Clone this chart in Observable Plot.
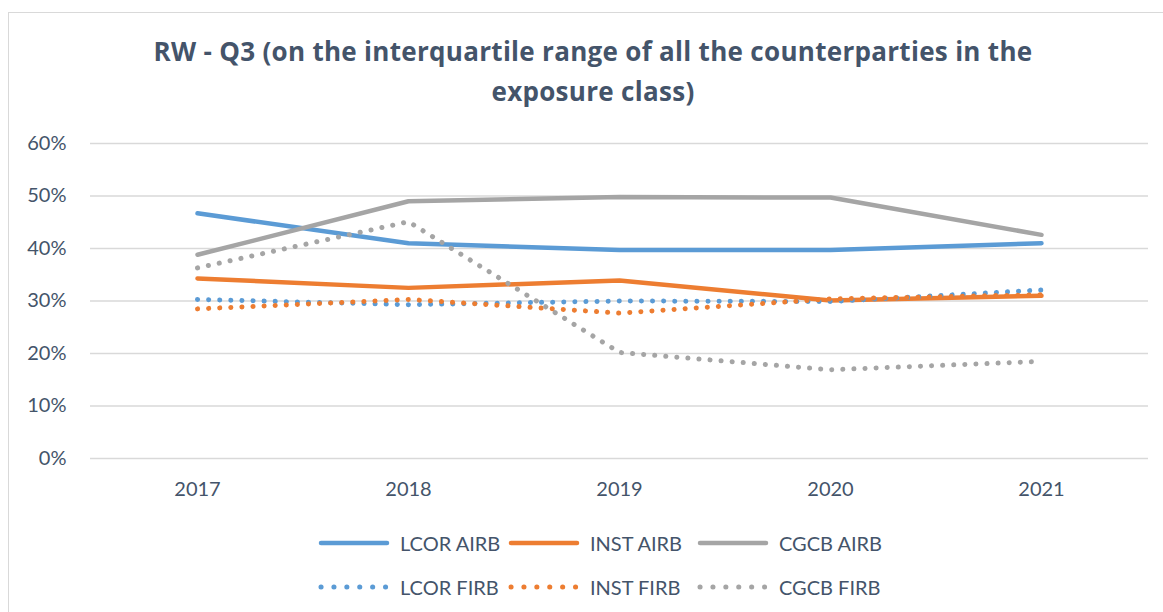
<!DOCTYPE html>
<html>
<head>
<meta charset="utf-8">
<script src="https://cdn.jsdelivr.net/npm/d3@7"></script>
<script src="https://cdn.jsdelivr.net/npm/@observablehq/plot@0.6"></script>
<style>
  html, body { margin: 0; padding: 0; background: #fff; width: 1163px; height: 612px; overflow: hidden; }
  body { position: relative; font-family: Lato, "Open Sans", sans-serif; color: #44546a; }
  #frame { position: absolute; left: 8px; top: 12px; width: 1300px; height: 700px; border-left: 1.5px solid #d9d9d9; border-top: 1.5px solid #d9d9d9; }
  #title { position: absolute; left: 0; top: 31px; width: 1186px; text-align: center; font-family: "Open Sans", Lato, sans-serif; font-weight: bold; font-size: 26px; letter-spacing: 0.3px; line-height: 40px; color: #44546a; }
  #chart { position: absolute; left: 0; top: 100px; }
  #legend { position: absolute; left: 0; top: 0; }
  .item { position: absolute; display: flex; align-items: center; font-size: 20px; color: #44546a; white-space: nowrap; }
  .item svg { margin-right: 10px; }
</style>
</head>
<body>
<div id="frame"></div>
<div id="title">RW - Q3 (on the interquartile range of all the counterparties in the<br>exposure class)</div>
<div id="chart"></div>
<div id="legend"></div>
<script>
const years = ["2017", "2018", "2019", "2020", "2021"];
const lcorAirb = [0.467, 0.410, 0.397, 0.397, 0.410];
const instAirb = [0.343, 0.325, 0.339, 0.301, 0.310];
const cgcbAirb = [0.388, 0.490, 0.498, 0.497, 0.426];
const lcorFirb = [0.303, 0.293, 0.300, 0.299, 0.321];
const instFirb = [0.285, 0.303, 0.277, 0.304, 0.312];
const cgcbFirb = [0.363, 0.451, 0.202, 0.169, 0.185];
const yTicks = [0, 0.1, 0.2, 0.3, 0.4, 0.5, 0.6];

const seriesDefs = [
  {name: "LCOR AIRB", values: lcorAirb, color: "#5b9bd5", dotted: false},
  {name: "INST AIRB", values: instAirb, color: "#ed7d31", dotted: false},
  {name: "CGCB AIRB", values: cgcbAirb, color: "#a5a5a5", dotted: false},
  {name: "LCOR FIRB", values: lcorFirb, color: "#5b9bd5", dotted: true},
  {name: "INST FIRB", values: instFirb, color: "#ed7d31", dotted: true},
  {name: "CGCB FIRB", values: cgcbFirb, color: "#a5a5a5", dotted: true}
];

const lineMarks = seriesDefs.map(s => {
  const data = years.map((y, i) => ({year: y, value: s.values[i]}));
  return Plot.line(data, {
    x: "year", y: "value",
    stroke: s.color,
    strokeWidth: s.dotted ? 5 : 4.5,
    strokeLinecap: "round",
    strokeLinejoin: "round",
    strokeDasharray: s.dotted ? "0.1 11" : null
  });
});

const chart = Plot.plot({
  width: 1163,
  height: 400,
  marginLeft: 90,
  marginRight: 15,
  marginTop: 43,
  marginBottom: 42,
  style: {fontFamily: "Lato, 'Open Sans', sans-serif", fontSize: "20px", color: "#44546a", background: "transparent"},
  x: {type: "point", domain: years, padding: 0.5, label: null},
  y: {domain: [0, 0.6], label: null},
  marks: [
    Plot.gridY(yTicks, {stroke: "#d9d9d9", strokeOpacity: 1, strokeWidth: 1.5}),
    Plot.axisY(yTicks, {tickSize: 0, tickPadding: 24, tickFormat: d => Math.round(d * 100) + "%", fill: "#44546a", fontSize: 20, label: null}),
    Plot.axisX(years, {tickSize: 0, tickPadding: 23, fill: "#44546a", fontSize: 20, label: null}),
    ...lineMarks
  ]
});
document.getElementById("chart").appendChild(chart);

// Legend
const legendPos = [
  [318, 543], [508, 543], [697, 543],
  [318, 587], [508, 587], [697, 587]
];
const legend = document.getElementById("legend");
seriesDefs.forEach((s, i) => {
  const div = document.createElement("div");
  div.className = "item";
  div.style.left = legendPos[i][0] + "px";
  div.style.top = (legendPos[i][1] - 14) + "px";
  div.style.height = "28px";
  const ns = "http://www.w3.org/2000/svg";
  const sw = document.createElementNS(ns, "svg");
  sw.setAttribute("width", 72);
  sw.setAttribute("height", 12);
  const ln = document.createElementNS(ns, "line");
  ln.setAttribute("x1", 3); ln.setAttribute("x2", s.dotted ? 68 : 69);
  ln.setAttribute("y1", 6); ln.setAttribute("y2", 6);
  ln.setAttribute("stroke", s.color);
  ln.setAttribute("stroke-width", s.dotted ? 5 : 4.5);
  ln.setAttribute("stroke-linecap", "round");
  if (s.dotted) ln.setAttribute("stroke-dasharray", "0.1 12.8");
  sw.appendChild(ln);
  div.appendChild(sw);
  const t = document.createElement("span");
  t.textContent = s.name;
  div.appendChild(t);
  legend.appendChild(div);
});
</script>
</body>
</html>
